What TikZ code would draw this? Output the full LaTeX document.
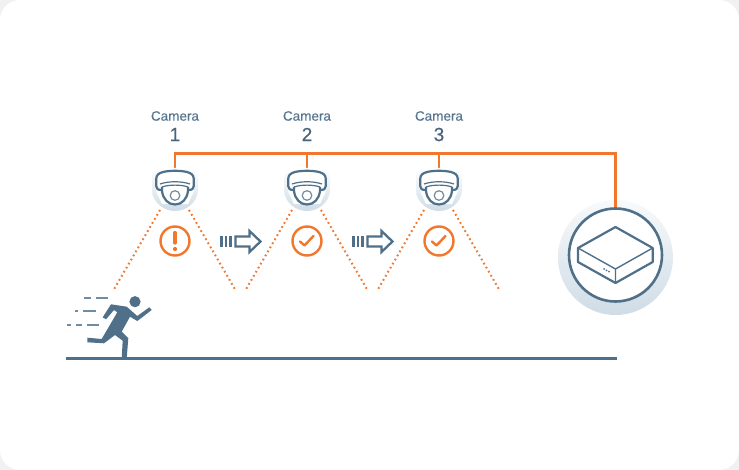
\documentclass[tikz,border=0pt]{standalone}
\usepackage{fontspec}
\setmainfont{Liberation Sans}
\usetikzlibrary{calc}
\definecolor{slate}{HTML}{4F7088}
\definecolor{slatelt}{HTML}{6F8CA2}
\definecolor{labelc}{HTML}{56768F}
\definecolor{wire}{HTML}{F0772B}
\definecolor{haloB}{HTML}{CFDCE6}
\definecolor{pagebg}{HTML}{F1F1F1}
\tikzset{
  x=1pt,y=-1pt,
  camlabel/.style={font=\fontsize{13.5}{14}\selectfont\addfontfeature{FakeBold=0.15},text=labelc,inner sep=0pt},
  camnum/.style={font=\fontsize{19}{19}\selectfont\addfontfeature{FakeBold=0.5},text=labelc!85!black,inner sep=0pt},
  wireline/.style={draw=wire,line width=2.5pt},
  coverage/.style={draw=wire,line width=2pt,dash pattern=on 1.7pt off 3pt},
  iconline/.style={draw=slate,line width=2.2pt,line join=round},
  statusring/.style={circle,draw=wire,line width=2.4pt,minimum size=29pt,inner sep=0pt,fill=white},
  camanchor/.style={inner sep=0pt,minimum width=44pt,minimum height=43pt},
  nvrring/.style={circle,draw=slate,line width=2.6pt,fill=white,minimum size=93pt,inner sep=0pt},
  speed/.style={draw=slatelt,line width=1.4pt},
  pics/camicon/.style={code={
    \path[top color=white,bottom color=haloB]
      (-14,-20) .. controls (-20,-19) and (-23,-15) .. (-23,-8)
      -- (-23,3) .. controls (-22,14) and (-12,23) .. (0,23)
      .. controls (12,23) and (22,14) .. (23,3) -- (23,-8)
      .. controls (23,-15) and (20,-19) .. (14,-20) -- cycle;
    \fill[white] (-14,-17) -- (14,-17) -- (19,-10) -- (19,3) -- (13,16) -- (-13,16) -- (-19,3) -- (-19,-10) -- cycle;
    \draw[iconline]
      (-13,2) .. controls (-17,2) and (-18.8,1) .. (-18.8,-2)
      -- (-18.8,-9) .. controls (-18.8,-13) and (-16,-15) .. (-12,-16)
      .. controls (-5,-17.6) and (5,-17.6) .. (12,-16)
      .. controls (16,-15) and (18.8,-13) .. (18.8,-9)
      -- (18.8,-2) .. controls (18.8,1) and (17,2) .. (13,2);
    \draw[iconline,line width=1.2pt] (-15,-4) .. controls (-6,-7) and (6,-7) .. (15,-4);
    \draw[iconline,line width=1.2pt] (-13,-1) .. controls (-6,-3.5) and (6,-3.5) .. (13,-1);
    \draw[iconline] (-13,-1) -- (-13,3) .. controls (-12,11) and (-7,16.5) .. (0,16.5)
      .. controls (7,16.5) and (12,11) .. (13,3) -- (13,-1);
    \draw[draw=slatelt,line width=1.2pt] (0,7.5) circle[radius=4.8];
  }},
  pics/flowarrow/.style={code={
    \draw[iconline,line width=2.2pt] (0,-5.5) -- (0,5.5) (4.5,-5.5) -- (4.5,5.5) (9,-5.5) -- (9,5.5);
    \draw[iconline,line width=2.3pt,line join=miter]
      (14,-5) -- (28,-5) -- (28,-10.5) -- (39,0) -- (28,10.5) -- (28,5) -- (14,5) -- cycle;
  }},
  pics/tick/.style={code={
    \draw[wire,line width=2.4pt,line cap=round,line join=round] (-7,0.5) -- (-2.5,4.5) -- (6.5,-5);
  }}
}
\begin{document}
\begin{tikzpicture}
\useasboundingbox (0,0) rectangle (739,470);
\fill[pagebg] (0,0) rectangle (739,470);
\fill[white,rounded corners=20pt] (0,0) rectangle (739,470);

% labels
\node[camlabel] (lab1) at (175,116) {Camera};
\node[camlabel] (lab2) at (307,116) {Camera};
\node[camlabel] (lab3) at (439,116) {Camera};
\node[camnum] (num1) at (175,134.5) {1};
\node[camnum] (num2) at (307,134.5) {2};
\node[camnum] (num3) at (439,134.5) {3};

% anchors
\node[camanchor] (cam1) at (175,189.5) {};
\node[camanchor] (cam2) at (307,189.5) {};
\node[camanchor] (cam3) at (439,189.5) {};
\coordinate (bus) at (615.5,153.7);
\coordinate (cam1top) at (175,172);
\coordinate (cam2top) at (307,172);
\coordinate (cam3top) at (439,172);

% NVR
\path[top color=haloB!15,bottom color=haloB] (615.5,257.5) circle[radius=57.5];
\node[nvrring] (nvr) at (615.5,255) {};

% wires
\draw[wireline] (cam1top) |- (bus) -- (nvr.north);
\draw[wireline] (cam2top) -- (cam2top |- bus);
\draw[wireline] (cam3top) -- (cam3top |- bus);

% cameras
\pic at (175,188) {camicon};
\pic at (307,188) {camicon};
\pic at (439,188) {camicon};

% coverage lines
\coordinate (c1l) at (160,210); \coordinate (c1r) at (189,210);
\coordinate (c2l) at (292,210); \coordinate (c2r) at (321,210);
\coordinate (c3l) at (424,210); \coordinate (c3r) at (453,210);
\coordinate (e1l) at (113,291); \coordinate (e1r) at (236,291);
\coordinate (e2l) at (245,291); \coordinate (e2r) at (368,291);
\coordinate (e3l) at (377,291); \coordinate (e3r) at (500,291);
\draw[coverage] (c1l) -- (e1l);
\draw[coverage] (c1r) -- (e1r);
\draw[coverage] (c2l) -- (e2l);
\draw[coverage] (c2r) -- (e2r);
\draw[coverage] (c3l) -- (e3l);
\draw[coverage] (c3r) -- (e3r);

% status icons
\node[statusring] (st1) at (175,241) {};
\node[statusring] (st2) at (307,241) {};
\node[statusring] (st3) at (439,241) {};
\draw[wire,line width=3.2pt,line cap=round] (175,232.5) -- (175,243);
\fill[wire] (175,249) circle[radius=2.1];
\pic at (st2.center) {tick};
\pic at (st3.center) {tick};

% flow arrows
\pic at (221.5,241.5) {flowarrow};
\pic at (353.5,241.5) {flowarrow};

% NVR box
\draw[iconline] (615.5,227) -- (652.7,248) -- (652.7,262) -- (615.5,283) -- (578,262) -- (578,248) -- cycle;
\draw[iconline,line width=1.4pt] (578,248) -- (615.5,269) -- (652.7,248) (615.5,269) -- (615.5,283);
\fill[slate] (604,269) circle[radius=1] (606.5,270.3) circle[radius=1] (609,271.6) circle[radius=1];

% runner
\fill[slate] (135,301.7) circle[radius=5.6];
\fill[slate,line join=round] (102.7,317.3) -- (111,304.3) -- (126.7,306.7) -- (137.3,316)
  -- (149.3,307.3) -- (151.7,310) -- (137.3,321) -- (130,316.7) -- (121.7,331.7)
  -- (128.3,338.3) -- (126.7,358.3) -- (121.7,358.3) -- (122.7,340.7) -- (115,335)
  -- (104,343.3) -- (87.3,342.3) -- (87.3,337.7) -- (101.7,339) -- (117.3,312.3)
  -- (114,310) -- (106,319.3) -- cycle;

% speed lines
\draw[speed] (84,298) -- (91,298) (96,298) -- (108,298);
\draw[speed] (75,311) -- (78,311) (83,311) -- (96,311);
\draw[speed] (67,325) -- (71,325) (76,325) -- (82,325) (87,325) -- (99,325);

% ground
\node[inner sep=0pt,minimum size=0pt] (g1) at (66,358.5) {};
\node[inner sep=0pt,minimum size=0pt] (g2) at (617,358.5) {};
\draw[draw=slate,line width=2.4pt] (g1) -- (g2);
\end{tikzpicture}
\end{document}
